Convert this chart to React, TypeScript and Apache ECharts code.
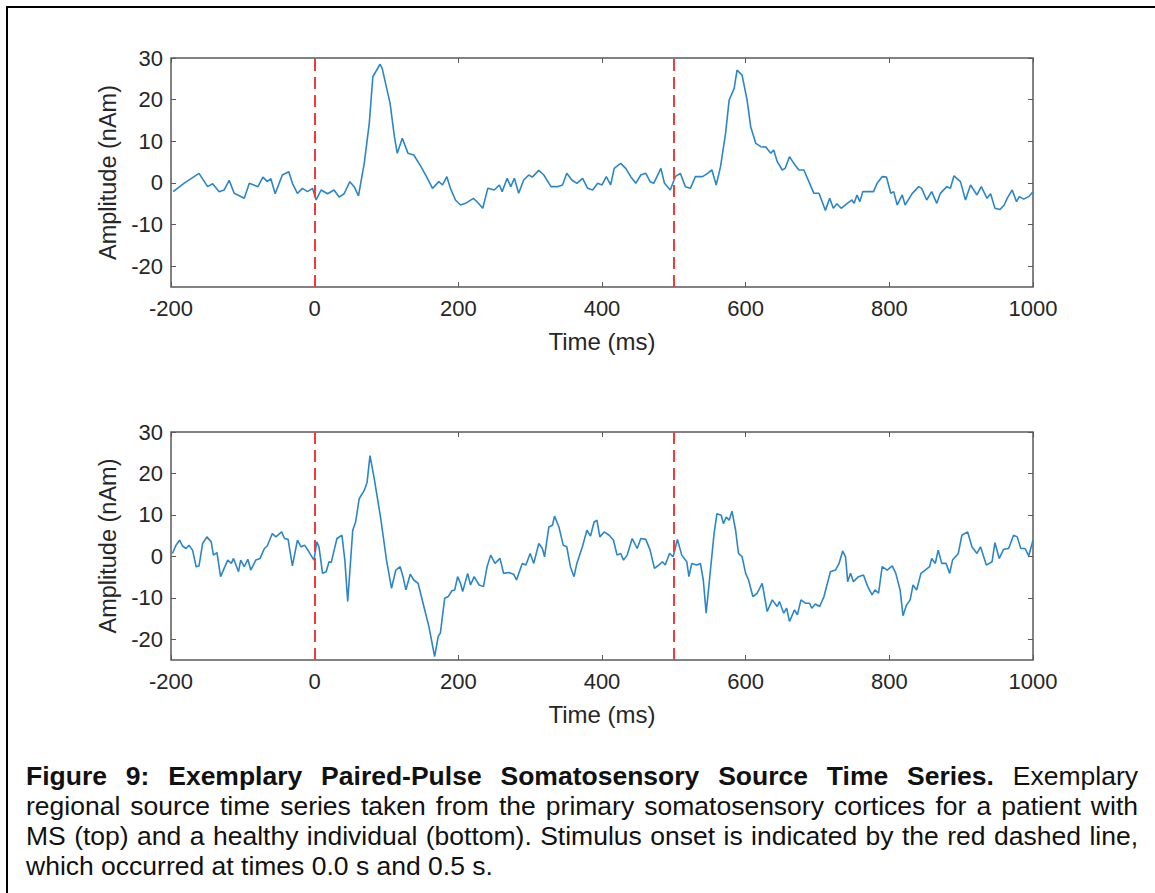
import React, { useEffect, useRef } from "react";
import * as echarts from "echarts";

// ---- Data (time in ms, amplitude in nAm) ----
const msTime = [-197,-182,-161,-149,-142,-133,-126,-119,-112,-98,-91,-79,-72,-66,-61,-55,-45,-36,-31,-24,-17,-10,-3,2,9,18,27,34,41,49,55,61,69,76,81,85,91,94,105,111,115,122,130,138,148,157,164,173,178,184,189,196,203,210,221,227,234,241,250,257,261,268,273,278,284,291,298,303,312,319,329,338,345,351,358,365,373,380,387,394,400,406,412,417,426,433,440,447,454,461,467,472,482,487,495,502,509,516,523,530,540,547,553,559,565,572,577,584,588,595,602,607,614,621,628,635,639,644,651,655,661,667,674,681,688,695,702,711,717,722,727,733,741,748,751,755,759,763,771,778,783,790,796,802,806,811,818,822,832,841,845,852,859,866,871,880,885,890,899,906,913,922,928,936,941,947,954,960,964,971,977,981,987,994,1000];
const msAmp = [-2.1,-0.1,2.3,-0.9,-0.2,-2.1,-1.7,0.6,-2.5,-3.7,-0.1,-0.9,1.4,0.3,1.0,-2.6,1.9,2.7,-0.1,-2.5,-1.3,-2.1,-1.3,-4.1,-1.7,-2.6,-1.7,-3.4,-2.6,0.3,-0.9,-3.1,4.7,14.3,25.5,26.7,28.5,27.5,19.1,11.1,7.1,10.7,7.1,6.7,3.9,1.1,-1.3,0.3,-0.5,1.5,-1.3,-4.1,-5.3,-4.9,-3.7,-4.7,-6.1,-1.3,-1.7,-0.5,-2.1,1.1,-0.9,1.1,-2.5,0.7,1.9,1.4,3.0,1.9,-0.9,-0.9,-0.5,2.3,0.7,-0.1,1.1,-1.3,-1.7,-0.1,-0.5,1.5,-0.5,3.5,4.7,3.5,1.5,-0.1,1.9,2.3,0.3,-0.1,3.5,-0.1,-1.7,1.5,2.3,-0.9,-1.3,1.5,1.5,2.3,3.1,-0.5,3.9,11.9,19.9,22.7,27.1,25.9,19.9,13.5,9.5,8.7,8.6,7.1,7.9,5.1,3.1,3.5,6.3,4.7,3.1,3.1,0.3,-2.5,-2.5,-6.6,-3.7,-6.1,-5.0,-6.1,-5.0,-4.1,-4.9,-2.9,-4.5,-2.1,-2.1,-2.1,-0.1,1.5,1.4,-2.5,-2.1,-5.3,-2.9,-5.3,-2.5,-0.9,-1.3,-4.1,-2.1,-4.9,-2.5,-0.9,-1.3,1.7,0.3,-4.1,-0.5,-2.9,-0.9,-3.7,-2.6,-6.1,-6.4,-5.3,-3.7,-1.7,-4.5,-3.3,-3.9,-3.3,-2.1];

const hcTime = [-198,-193,-188,-184,-179,-175,-170,-165,-161,-156,-150,-144,-141,-136,-131,-126,-121,-116,-113,-106,-103,-98,-93,-89,-82,-76,-70,-66,-59,-54,-46,-42,-37,-31,-24,-19,-14,-8,-1,3,6,11,16,20,23,31,38,42,46,53,57,62,69,73,77,83,92,100,107,113,119,123,127,133,138,144,152,159,167,172,175,181,186,191,195,199,203,206,213,217,222,229,235,240,245,251,258,263,270,277,281,289,294,300,305,312,317,320,326,331,334,340,346,351,356,361,365,373,379,384,389,393,397,403,410,416,421,426,430,435,442,449,454,461,467,473,479,484,488,494,499,505,511,518,521,525,532,537,541,545,551,556,560,566,569,573,577,581,586,590,595,600,604,610,616,623,630,637,644,647,653,657,661,668,672,677,683,689,692,697,703,709,718,725,730,735,739,742,746,750,757,764,770,776,780,785,790,797,804,809,815,819,824,829,833,838,844,850,856,859,864,868,873,879,884,888,896,901,909,915,922,927,935,943,947,953,959,966,973,978,983,989,994,1000];
const hcAmp = [0.7,2.7,3.9,2.5,1.9,2.7,1.5,-2.5,-2.3,3.1,4.7,3.5,0.3,0.9,-4.9,-2.9,-0.9,-1.7,-0.5,-3.7,-0.9,-2.5,-0.7,-3.3,-0.9,-0.5,1.9,2.5,5.5,4.7,5.9,4.3,4.1,-2.3,3.9,2.3,2.7,1.1,-0.9,3.5,2.3,-4.1,-3.7,-1.3,-1.5,4.3,5.1,-0.9,-10.9,6.3,8.3,13.9,15.9,17.9,24.3,18.7,9.1,-0.9,-7.7,-3.3,-2.5,-4.9,-8.1,-4.3,-5.7,-6.5,-12.1,-16.9,-24.2,-19.3,-18.5,-10.1,-9.7,-8.3,-8.1,-4.9,-6.5,-8.5,-4.1,-6.9,-4.9,-6.9,-7.3,-2.5,0.3,-1.7,-0.5,-4.1,-3.9,-4.3,-5.7,-1.7,-2.1,0.7,-1.7,3.1,1.9,-0.1,7.1,7.5,9.7,7.1,2.7,2.3,-2.5,-4.9,-1.7,2.5,6.3,4.9,8.3,8.7,4.7,5.9,5.1,3.9,0.3,0.7,-0.9,0.3,4.3,1.9,4.3,4.1,1.5,-2.9,-2.1,-1.3,-2.1,0.7,-0.1,4.1,0.3,-1.3,-4.9,-1.7,-2.1,-1.7,-5.7,-13.7,-3.3,5.5,10.3,9.9,7.9,9.5,8.7,10.9,6.3,0.7,-0.1,-4.1,-5.7,-9.7,-8.9,-6.5,-13.3,-10.5,-12.1,-10.9,-13.7,-12.5,-15.7,-12.9,-14.1,-10.5,-11.3,-11.3,-12.5,-11.5,-12.1,-9.7,-3.7,-3.3,-1.7,1.3,-0.1,-6.1,-4.1,-6.1,-4.9,-4.5,-7.3,-9.3,-8.1,-8.9,-2.5,-3.3,-2.3,-4.1,-8.1,-14.3,-11.7,-10.5,-6.9,-8.1,-4.1,-3.3,-2.5,-0.5,-1.7,1.5,-1.7,-1.7,-4.1,-0.9,0.7,5.1,5.9,2.3,0.7,2.3,-2.1,-1.3,3.3,-0.5,1.7,1.9,5.1,4.7,1.9,1.9,0.1,3.9];

const stimulusTimes = [0, 500];
const yTickValues = [-20, -10, 0, 10, 20, 30];
const xName = "Time (ms)";
const yName = "Amplitude (nAm)";

const captionTitle = "Figure 9: Exemplary Paired-Pulse Somatosensory Source Time Series.";
const captionLines = [
  "Exemplary",
  "regional source time series taken from the primary somatosensory cortices for a patient with",
  "MS (top) and a healthy individual (bottom). Stimulus onset is indicated by the red dashed line,",
  "which occurred at times 0.0 s and 0.5 s.",
];

const FONT = "'Liberation Sans', Arial, Helvetica, sans-serif";
const TEXT = "#262626";
const FRAME = "#5a5a5a";

function zip(t: number[], v: number[]) {
  return t.map((x, i) => [x, v[i]]);
}

export default function App() {
  const ref = useRef<HTMLDivElement>(null);
  useEffect(() => {
    if (!ref.current) return;
    const chart = echarts.init(ref.current, undefined, { renderer: "svg" });
    const grids = [
      { left: 171, top: 58, width: 862, height: 229 },
      { left: 171, top: 432, width: 862, height: 228 },
    ];
    const tickStyle = { color: FRAME, width: 1 };
    const xAxis: any[] = [];
    const yAxis: any[] = [];
    grids.forEach((_, i) => {
      xAxis.push({
        type: "value", gridIndex: i, min: -200, max: 1000, interval: 200, position: "bottom",
        axisLine: { show: false, onZero: false },
        axisTick: { inside: true, length: 5, lineStyle: tickStyle },
        axisLabel: { color: TEXT, fontSize: 22, margin: 10, fontFamily: FONT, formatter: (v: number) => String(v) },
        splitLine: { show: false },
        name: xName, nameLocation: "middle", nameGap: 42,
        nameTextStyle: { color: TEXT, fontSize: 24, fontFamily: FONT },
      });
      xAxis.push({
        type: "value", gridIndex: i, min: -200, max: 1000, interval: 200, position: "top",
        axisLine: { show: false, onZero: false },
        axisTick: { inside: true, length: 5, lineStyle: tickStyle },
        axisLabel: { show: false }, splitLine: { show: false },
      });
      yAxis.push({
        type: "value", gridIndex: i, min: -25, max: 30, position: "left",
        axisLine: { show: false, onZero: false },
        axisTick: { inside: true, length: 5, customValues: yTickValues, lineStyle: tickStyle },
        axisLabel: { color: TEXT, fontSize: 22, margin: 8, fontFamily: FONT, customValues: yTickValues },
        splitLine: { show: false },
        name: yName, nameLocation: "middle", nameGap: 46, nameRotate: 90,
        nameTextStyle: { color: TEXT, fontSize: 23.5, fontFamily: FONT },
      });
      yAxis.push({
        type: "value", gridIndex: i, min: -25, max: 30, position: "right",
        axisLine: { show: false, onZero: false },
        axisTick: { inside: true, length: 5, customValues: yTickValues, lineStyle: tickStyle },
        axisLabel: { show: false }, splitLine: { show: false },
      });
    });
    const markLine = {
      silent: true, symbol: ["none", "none"], label: { show: false },
      lineStyle: { color: "#f03c3c", type: [12, 6], width: 2 },
      data: stimulusTimes.map((t) => ({ xAxis: t })),
    };
    chart.setOption({
      animation: false,
      grid: grids.map((g) => ({ ...g, show: true, borderColor: FRAME, borderWidth: 1.5, backgroundColor: "transparent" })),
      xAxis, yAxis,
      series: [
        {
          type: "line", xAxisIndex: 0, yAxisIndex: 0, data: zip(msTime, msAmp), showSymbol: false,
          lineStyle: { color: "#2b86c8", width: 1.6 }, markLine,
        },
        {
          type: "line", xAxisIndex: 2, yAxisIndex: 2, data: zip(hcTime, hcAmp), showSymbol: false,
          lineStyle: { color: "#2b86c8", width: 1.6 }, markLine,
        },
      ],
    });
    return () => chart.dispose();
  }, []);

  const lineStyle = (justify: boolean): React.CSSProperties => ({
    height: 30, lineHeight: "30px", whiteSpace: "nowrap",
    textAlign: justify ? "justify" : "left", textAlignLast: justify ? "justify" : "left",
  });

  return (
    <div style={{ position: "absolute", left: 0, top: 0, width: 1155, height: 893, background: "#fff", overflow: "hidden" }}>
      <div style={{ position: "absolute", left: 6, top: 6, width: 1149, height: 887, borderTop: "2px solid #000", borderLeft: "2px solid #000", boxSizing: "border-box" }} />
      <div ref={ref} style={{ position: "absolute", left: 0, top: 0, width: 1155, height: 740 }} />
      <div style={{ position: "absolute", left: 26, top: 761, width: 1112, fontFamily: FONT, fontSize: 26.5, color: "#111" }}>
        <div style={{ ...lineStyle(true), whiteSpace: "normal" }}>
          <b>{captionTitle}</b> {captionLines[0]}
        </div>
        <div style={{ ...lineStyle(true), whiteSpace: "normal" }}>{captionLines[1]}</div>
        <div style={{ ...lineStyle(true), whiteSpace: "normal" }}>{captionLines[2]}</div>
        <div style={lineStyle(false)}>{captionLines[3]}</div>
      </div>
    </div>
  );
}
